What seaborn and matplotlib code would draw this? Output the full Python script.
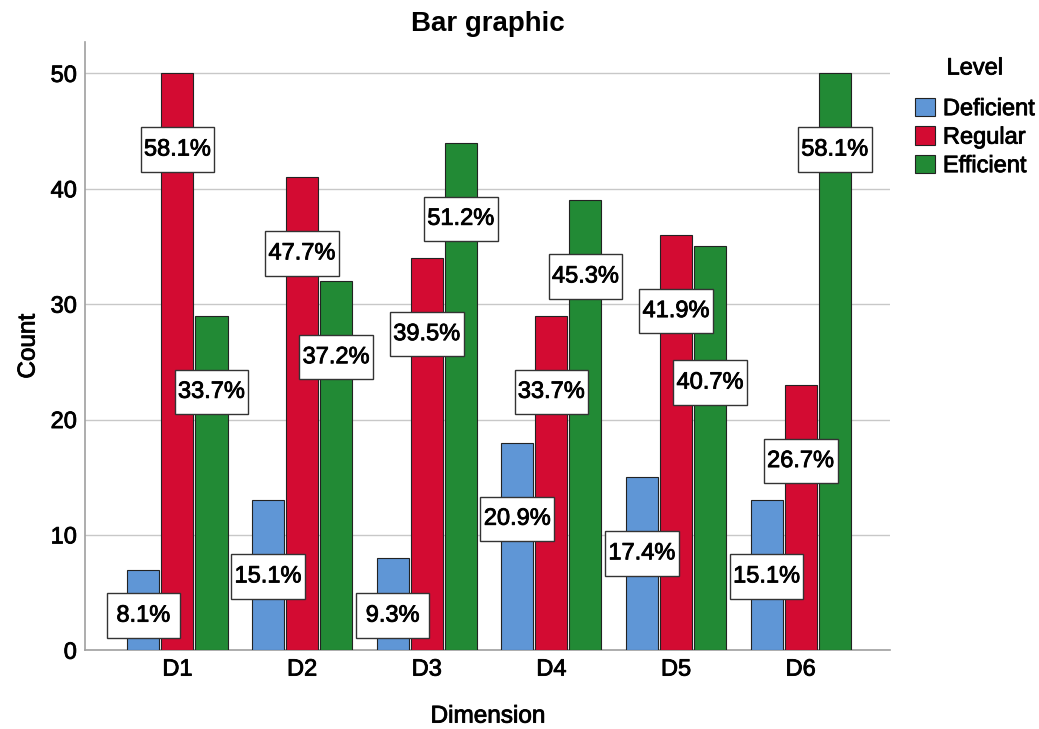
import pandas as pd
import seaborn as sns
import matplotlib.pyplot as plt
import matplotlib.patheffects as pe
from matplotlib.path import Path
from matplotlib.transforms import Affine2D

# Valori (n = 86 per dimensione)
dimensions = ["D1", "D2", "D3", "D4", "D5", "D6"]
levels = ["Deficient", "Regular", "Efficient"]
deficient = [7, 13, 8, 18, 15, 13]
regular = [50, 41, 34, 29, 36, 23]
efficient = [29, 32, 44, 39, 35, 50]
pct_deficient = ["8.1%", "15.1%", "9.3%", "20.9%", "17.4%", "15.1%"]
pct_regular = ["58.1%", "47.7%", "39.5%", "33.7%", "41.9%", "26.7%"]
pct_efficient = ["33.7%", "37.2%", "51.2%", "45.3%", "40.7%", "58.1%"]


def fixed_box(x0, y0, width, height, mutation_size):
    # riquadro a dimensione fissa centrato sul testo (stile SPSS)
    cx = x0 + width / 2
    cy = y0 + height / 2
    w = 3.12 * mutation_size
    h = 1.88 * mutation_size
    return Path.unit_rectangle().transformed(
        Affine2D().scale(w, h).translate(cx - w / 2, cy - h / 2)
    )


def main():
    rows = []
    for lvl, vals in zip(levels, [deficient, regular, efficient]):
        for d, v in zip(dimensions, vals):
            rows.append({"Dimension": d, "Level": lvl, "Count": v})
    df = pd.DataFrame(rows)

    sns.set_theme(style="white")
    plt.rcParams["font.family"] = ["Liberation Sans", "DejaVu Sans"]
    plt.rcParams["text.color"] = "black"
    plt.rcParams["axes.labelcolor"] = "black"
    plt.rcParams["xtick.color"] = "black"
    plt.rcParams["ytick.color"] = "black"

    # leggero ispessimento del testo, come nel rendering originale
    heavy = [pe.withStroke(linewidth=0.6, foreground="black")]

    fig = plt.figure(figsize=(10.39, 7.29), dpi=100)
    ax = fig.add_axes([0.082, 0.108, 0.775, 0.834])

    palette = {"Deficient": "#5f96d6", "Regular": "#d30b32", "Efficient": "#228a35"}
    sns.barplot(
        data=df, x="Dimension", y="Count", hue="Level",
        order=dimensions, hue_order=levels, palette=palette,
        width=0.82, gap=0.06, edgecolor="#222222", linewidth=0.8,
        saturation=1, ax=ax, zorder=3,
    )

    ax.set_ylim(0, 52.7)
    ax.set_xlim(-0.74, 5.72)
    ax.set_yticks([0, 10, 20, 30, 40, 50])
    ax.yaxis.grid(True, color="#c8c8c8", linewidth=1, zorder=0)
    ax.set_axisbelow(True)
    for side in ["top", "right"]:
        ax.spines[side].set_visible(False)
    for side in ["left", "bottom"]:
        ax.spines[side].set_color("#a0a0a0")
        ax.spines[side].set_linewidth(1.2)
    ax.tick_params(axis="both", labelsize=17, length=0, pad=6)
    for lab in ax.get_xticklabels() + ax.get_yticklabels():
        lab.set_path_effects(heavy)

    ax.set_title("Bar graphic", fontsize=20, fontweight="bold", pad=8)
    ax.set_xlabel("Dimension", fontsize=17.5, labelpad=18, path_effects=heavy)
    ax.set_ylabel("Count", fontsize=17.5, labelpad=8, path_effects=heavy)

    # Etichette percentuali dentro riquadri bianchi (sotto la cima della barra)
    pct_lists = [pct_deficient, pct_regular, pct_efficient]
    for gi in range(len(dimensions)):
        prev_y = None
        for hi, cont in enumerate(ax.containers):
            bar = cont.patches[gi]
            x = bar.get_x() + bar.get_width() / 2
            y = max(bar.get_height() - 6.6, 3.0)
            if prev_y is not None and abs(y - prev_y) < 4.0:
                y = prev_y - 6.2
            prev_y = y
            ax.text(
                x, y, pct_lists[hi][gi], ha="center", va="center",
                fontsize=17, color="black", zorder=5, path_effects=heavy,
                bbox=dict(boxstyle=fixed_box, fc="white", ec="#333333", lw=1),
            )

    sns.move_legend(
        ax, "upper left", bbox_to_anchor=(1.03, 0.975), frameon=False,
        title="Level", fontsize=17, title_fontsize=17,
        handlelength=0.85, handleheight=0.85, handletextpad=0.35,
        labelspacing=0.25, borderpad=0, borderaxespad=0,
    )
    leg = ax.get_legend()
    leg._legend_box.sep = 13
    leg.get_title().set_path_effects(heavy)
    for t in leg.get_texts():
        t.set_path_effects(heavy)

    fig.savefig("out.png", dpi=100)
    plt.close(fig)


if __name__ == "__main__":
    main()
